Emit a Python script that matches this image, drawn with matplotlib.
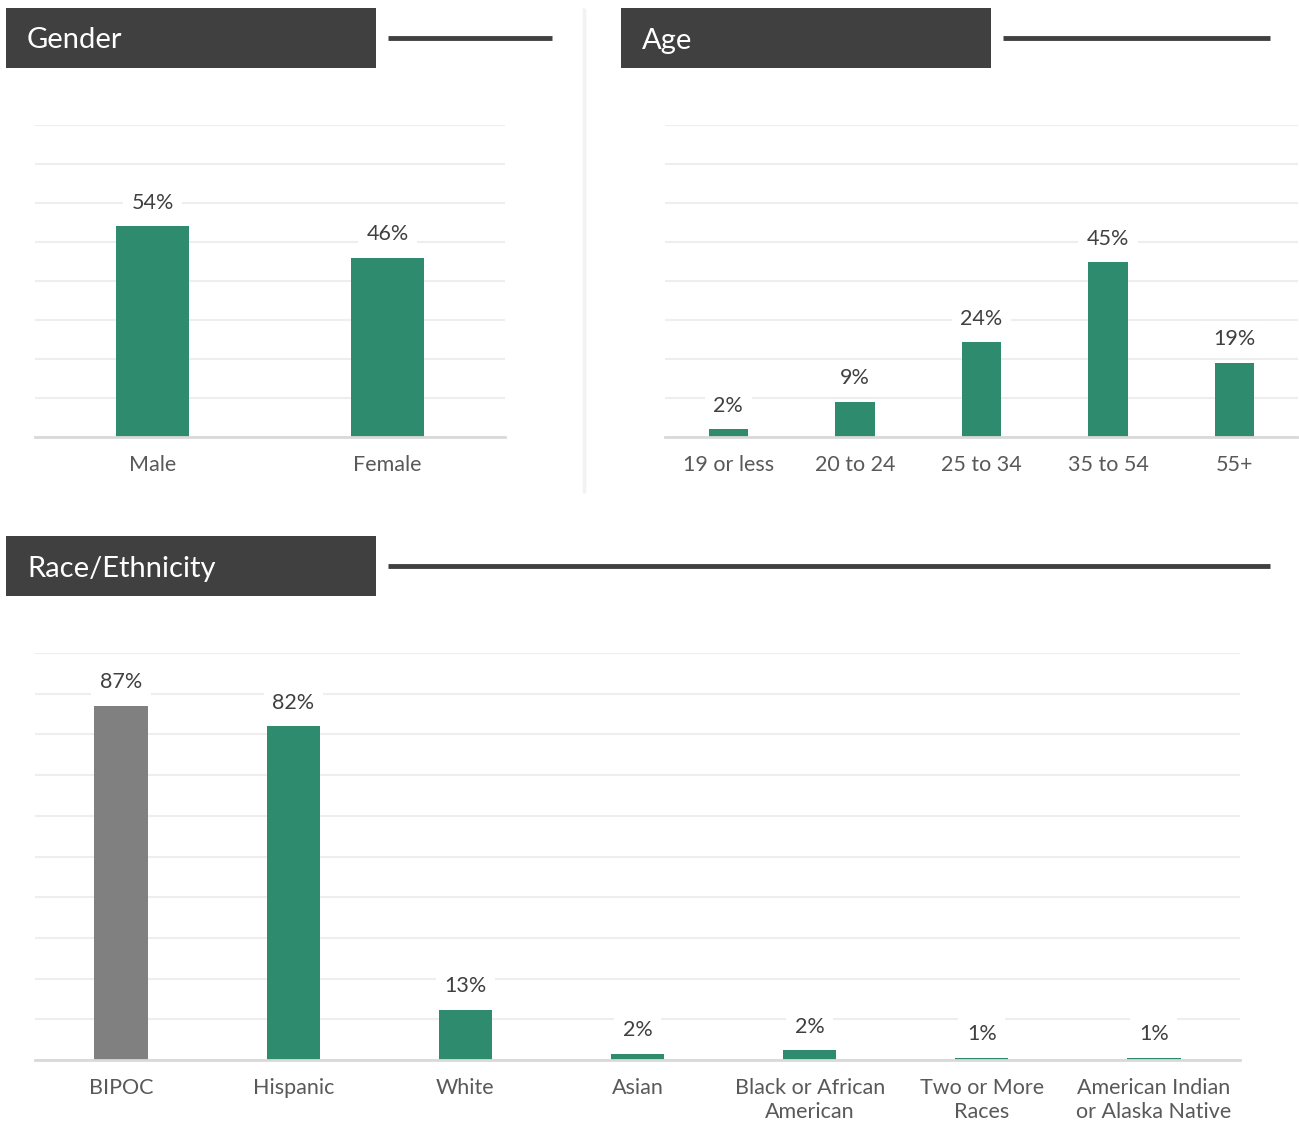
import numpy as np
import matplotlib.pyplot as plt
from matplotlib.patches import Rectangle
from matplotlib.lines import Line2D

plt.rcParams['font.family'] = ['Lato', 'DejaVu Sans']

gender_cats = ['Male', 'Female']
gender_vals = [54, 46]
gender_labels = ['54%', '46%']

age_cats = ['19 or less', '20 to 24', '25 to 34', '35 to 54', '55+']
age_vals = [2, 9, 24.3, 44.8, 19]
age_labels = ['2%', '9%', '24%', '45%', '19%']

race_cats = ['BIPOC', 'Hispanic', 'White', 'Asian', 'Black or African\nAmerican',
             'Two or More\nRaces', 'American Indian\nor Alaska Native']
race_vals = [87, 82, 12.3, 1.5, 2.4, 0.6, 0.6]
race_labels = ['87%', '82%', '13%', '2%', '2%', '1%', '1%']

W, H = 1299, 1122
green = '#2E8B6E'
gray_bar = '#808080'
dark = '#404040'
txt = '#404040'
tick_c = '#595959'

fig = plt.figure(figsize=(W / 100, H / 100), dpi=100)


def px_axes(x0, x1, y0, y1):
    # pixel box (top-left origin) -> figure axes
    return fig.add_axes([x0 / W, 1 - y1 / H, (x1 - x0) / W, (y1 - y0) / H])


def header(x0, y0, x1, line_end, title):
    fig.patches.append(Rectangle((x0 / W, 1 - (y0 + 60) / H), (x1 - x0) / W, 60 / H,
                                 transform=fig.transFigure, fc=dark, ec='none', zorder=1))
    fig.text((x0 + 21) / W, 1 - (y0 + 32.5) / H, title, color='white', fontsize=21,
             va='center', ha='left')
    fig.lines.append(Line2D([(x1 + 12) / W, line_end / W], [1 - (y0 + 29.5) / H] * 2,
                            transform=fig.transFigure, color=dark, lw=3.5,
                            solid_capstyle='butt'))


def bar_panel(ax, cats, vals, labels, ymax, colors, fs=15.5, lab_off=17):
    x = np.arange(len(cats))
    ax.bar(x, vals, width=0.31, color=colors, zorder=2)
    ax.set_xlim(-0.5, len(cats) - 0.5)
    ax.set_ylim(0, ymax)
    ax.set_yticks(np.arange(0, ymax + 1, 10))
    ax.yaxis.grid(True, color='#EEEEEE', lw=1.5, zorder=0)
    ax.set_axisbelow(True)
    for s in ['top', 'left', 'right']:
        ax.spines[s].set_visible(False)
    ax.spines['bottom'].set_color('#D9D9D9')
    ax.spines['bottom'].set_linewidth(2)
    ax.tick_params(axis='y', left=False, labelleft=False)
    ax.tick_params(axis='x', length=0, pad=13, labelsize=fs, labelcolor=tick_c)
    ax.set_xticks(x)
    ax.set_xticklabels(cats, linespacing=1.25)
    for xi, v, lab in zip(x, vals, labels):
        ax.annotate(lab, (xi, v), xytext=(0, lab_off), textcoords='offset points',
                    ha='center', va='center', fontsize=fs, color=txt, zorder=3,
                    bbox=dict(boxstyle='square,pad=0.4', fc='white', ec='none'))


# separator between top panels
fig.lines.append(Line2D([584 / W] * 2, [1 - 8 / H, 1 - 493 / H],
                        transform=fig.transFigure, color='#F2F2F2', lw=2.5,
                        solid_capstyle='butt'))

header(6, 8, 376, 552, 'Gender')
header(621, 8, 991, 1270, 'Age')
header(6, 536, 376, 1270, 'Race/Ethnicity')

ax1 = px_axes(35, 505, 125, 437)
bar_panel(ax1, gender_cats, gender_vals, gender_labels, 80, green)

ax2 = px_axes(665, 1298, 125, 437)
bar_panel(ax2, age_cats, age_vals, age_labels, 80, green)

ax3 = px_axes(35, 1240, 653, 1060)
race_colors = [gray_bar] + [green] * (len(race_cats) - 1)
bar_panel(ax3, race_cats, race_vals, race_labels, 100, race_colors)

fig.savefig('out.png', dpi=100, facecolor='white')
